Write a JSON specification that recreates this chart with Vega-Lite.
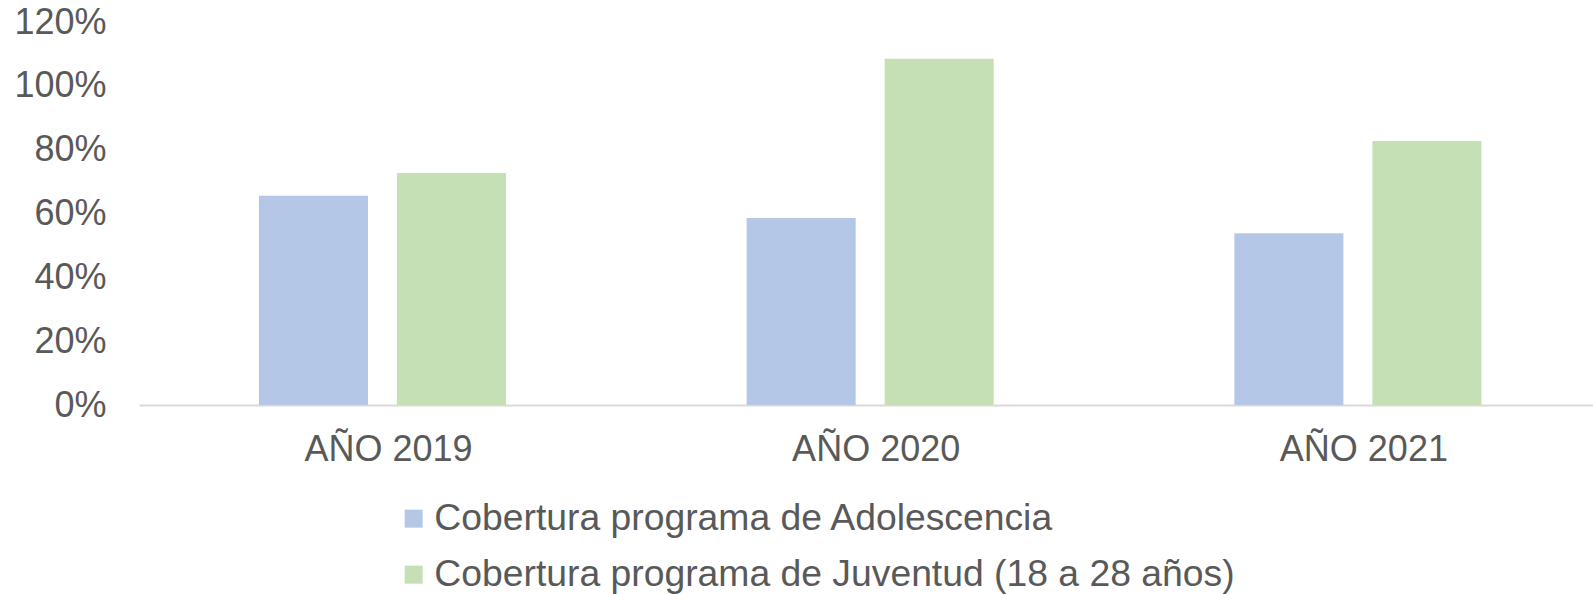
{
  "$schema": "https://vega.github.io/schema/vega-lite/v6.json",
  "autosize": {"type": "none"},
  "padding": {"left": 139, "top": 22, "right": 0, "bottom": 189},
  "width": 1454,
  "height": 383,
  "background": "white",
  "data": {
    "values": [
      {"anio": "AÑO 2019", "serie": "Cobertura programa de Adolescencia", "valor": 0.656},
      {"anio": "AÑO 2019", "serie": "Cobertura programa de Juventud (18 a 28 años)", "valor": 0.727},
      {"anio": "AÑO 2020", "serie": "Cobertura programa de Adolescencia", "valor": 0.586},
      {"anio": "AÑO 2020", "serie": "Cobertura programa de Juventud (18 a 28 años)", "valor": 1.085},
      {"anio": "AÑO 2021", "serie": "Cobertura programa de Adolescencia", "valor": 0.538},
      {"anio": "AÑO 2021", "serie": "Cobertura programa de Juventud (18 a 28 años)", "valor": 0.827}
    ]
  },
  "mark": {"type": "bar"},
  "encoding": {
    "x": {
      "field": "anio", "type": "nominal", "title": null,
      "scale": {"paddingInner": 0.4935, "paddingOuter": 0.2374, "align": 0.518},
      "axis": {"labelAngle": 0, "labelFont": "Liberation Sans", "labelFontSize": 36, "labelColor": "#595959",
               "ticks": false, "labelPadding": 27, "labelOffset": 6, "domainColor": "#D9D9D9", "domainWidth": 2, "grid": false}
    },
    "xOffset": {"field": "serie", "type": "nominal", "scale": {"paddingInner": 0.21, "paddingOuter": 0}},
    "y": {
      "field": "valor", "type": "quantitative", "title": null,
      "scale": {"domain": [0, 1.2], "nice": false},
      "axis": {"format": ".0%", "values": [0, 0.2, 0.4, 0.6, 0.8, 1.0, 1.2], "labelFont": "Liberation Sans", "labelFontSize": 36,
               "labelColor": "#595959", "ticks": false, "domain": false, "grid": false, "labelPadding": 33}
    },
    "color": {
      "field": "serie", "type": "nominal",
      "scale": {"domain": ["Cobertura programa de Adolescencia", "Cobertura programa de Juventud (18 a 28 años)"], "range": ["#B4C7E7", "#C5E0B4"]},
      "legend": {"title": null, "orient": "none", "legendX": 256, "legendY": 478, "direction": "vertical",
                 "symbolType": "square", "symbolSize": 324, "symbolStrokeWidth": 0, "labelFont": "Liberation Sans",
                 "labelFontSize": 37.3, "labelColor": "#595959", "rowPadding": 18, "labelOffset": 2, "labelLimit": 1200}
    }
  },
  "config": {"view": {"stroke": null}}
}
